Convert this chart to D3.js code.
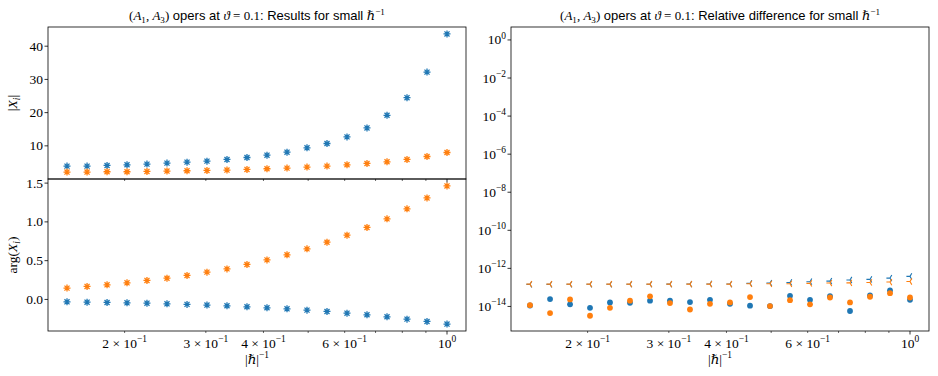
<!DOCTYPE html>
<html><head><meta charset="utf-8">
<script src="https://cdn.jsdelivr.net/npm/d3@7"></script>
<style>body{margin:0;background:#fff}svg{display:block}</style>
</head><body>
<svg id="c" width="938" height="376"></svg>
<script>
// ---------- data ----------
const hInv = [0.1500,0.1658,0.1832,0.2024,0.2236,0.2471,0.2731,0.3017,0.3334,0.3684,
              0.4071,0.4499,0.4971,0.5493,0.6070,0.6707,0.7412,0.8190,0.9050,1.0000];
const absBlue   = [3.9,3.9,4.1,4.3,4.5,4.8,5.1,5.4,5.9,6.5,7.2,8.1,9.4,10.7,12.7,15.4,19.2,24.5,32.2,43.7];
const absOrange = [2.1,2.1,2.2,2.2,2.3,2.4,2.5,2.6,2.7,2.9,3.1,3.3,3.6,3.9,4.3,4.7,5.2,5.9,6.8,8.0];
const argBlue   = [-0.031,-0.035,-0.039,-0.044,-0.048,-0.057,-0.064,-0.073,-0.082,-0.095,
                   -0.108,-0.121,-0.138,-0.155,-0.177,-0.198,-0.224,-0.254,-0.284,-0.318];
const argOrange = [0.146,0.168,0.188,0.214,0.245,0.274,0.309,0.352,0.394,0.451,
                   0.510,0.575,0.652,0.738,0.829,0.928,1.039,1.168,1.309,1.464];
const relDotBlue   = [1.12e-14,2.45e-14,1.29e-14,8.5e-15,1.62e-14,1.55e-14,2.0e-14,2.0e-14,1.70e-14,2.24e-14,
                      1.38e-14,1.10e-14,1.05e-14,3.63e-14,2.24e-14,3.47e-14,5.75e-15,3.8e-14,6.9e-14,2.24e-14];
const relDotOrange = [1.17e-14,4.47e-15,2.34e-14,3.24e-15,8.5e-15,2.0e-14,3.39e-14,1.51e-14,6.9e-15,1.38e-14,
                      1.62e-14,3.09e-14,1.05e-14,2.14e-14,1.29e-14,2.95e-14,1.62e-14,3.24e-14,5.0e-14,2.95e-14];
const relTriBlue   = [1.45e-13,1.45e-13,1.46e-13,1.46e-13,1.46e-13,1.47e-13,1.47e-13,1.48e-13,1.50e-13,1.52e-13,
                      1.50e-13,1.62e-13,1.70e-13,1.82e-13,2.0e-13,2.14e-13,2.45e-13,2.63e-13,3.09e-13,3.80e-13];
const relTriOrange = [1.48e-13,1.48e-13,1.48e-13,1.48e-13,1.48e-13,1.48e-13,1.48e-13,1.48e-13,1.48e-13,1.48e-13,
                      1.48e-13,1.55e-13,1.55e-13,1.55e-13,1.62e-13,1.70e-13,1.74e-13,1.82e-13,1.91e-13,2.04e-13];
const xTickVals   = [0.2,0.3,0.4,0.6,1];
const xTickLabels = [["2 × 10","−1"],["3 × 10","−1"],["4 × 10","−1"],["6 × 10","−1"],["10","0"]];
const xMinorVals  = [0.5,0.7,0.8,0.9];
const absTicks = [10,20,30,40];
const argTicks = [0.0,0.5,1.0,1.5];
const relTicks = [1e0,1e-2,1e-4,1e-6,1e-8,1e-10,1e-12,1e-14];
const relTickExp = ["0","−2","−4","−6","−8","−10","−12","−14"];

const BLUE = "#1f77b4", ORANGE = "#ff7f0e";
const SERIF = "'Liberation Serif', 'DejaVu Serif', serif";
const SANS  = "'Liberation Sans', Arial, sans-serif";
const FS = 13.5;

const svg = d3.select("#c");

// layout
const L = {x0: 48, x1: 466}, R = {x0: 511, x1: 929};
const yTop = 27, yMid = 179, yBot = 331;

function pad(lo, hi){ const m=(hi-lo)*0.05; return [lo-m, hi+m]; }
const lx = Math.log10(d3.min(hInv)), hx = Math.log10(d3.max(hInv));
const [dlx, dhx] = pad(lx, hx);
const xL = d3.scaleLog().domain([10**dlx, 10**dhx]).range([L.x0, L.x1]);
const xR = d3.scaleLog().domain([10**dlx, 10**dhx]).range([R.x0, R.x1]);
const yAbs = d3.scaleLinear().domain(pad(d3.min(absOrange.concat(absBlue)), d3.max(absBlue.concat(absOrange)))).range([yMid, yTop]);
const yArg = d3.scaleLinear().domain(pad(d3.min(argBlue.concat(argOrange)), d3.max(argBlue.concat(argOrange)))).range([yBot, yMid]);
const yRel = d3.scaleLog().domain([10**-15.29, 10**0.68]).range([yBot, yTop]);

// rich text helper
function rich(parent, x, y, parts, anchor, size, transform){
  size = size || FS;
  const t = parent.append("text").attr("x",x).attr("y",y)
    .attr("text-anchor",anchor||"middle").style("font-size",size+"px").attr("fill","#000");
  if (transform) t.attr("transform", transform);
  let shift = 0;
  parts.forEach(p=>{
    const fs = size * ((p.sup||p.sub)?0.7:1);
    const target = p.sup ? -size*0.42 : (p.sub ? size*0.22 : 0);
    const ts = t.append("tspan").text(p.t)
      .style("font-family", p.sans?SANS:SERIF)
      .style("font-style", p.i?"italic":"normal")
      .style("font-size", fs+"px");
    if (target !== shift){ ts.attr("dy", target-shift); shift = target; }
  });
  return t;
}

// star (asterisk) marker
function asterisk(g, data, xs, ys, color){
  const r = 3.5;
  const pth = `M${-r},0L${r},0M0,${-r}L0,${r}M${-r*0.72},${-r*0.72}L${r*0.72},${r*0.72}M${-r*0.72},${r*0.72}L${r*0.72},${-r*0.72}`;
  g.selectAll(null).data(data).enter().append("path")
    .attr("transform",d=>`translate(${xs(d[0])},${ys(d[1])})`)
    .attr("d",pth).attr("stroke",color).attr("stroke-width",1.3).attr("fill","none");
}
function dots(g, data, xs, ys, color){
  g.selectAll(null).data(data).enter().append("circle")
    .attr("cx",d=>xs(d[0])).attr("cy",d=>ys(d[1])).attr("r",2.9).attr("fill",color);
}
function triLeft(g, data, xs, ys, color){
  const r = 3.6;
  const pth = `M0,0L${-r},0M0,0L${r*0.5},${-r*0.866}M0,0L${r*0.5},${r*0.866}`;
  g.selectAll(null).data(data).enter().append("path")
    .attr("transform",d=>`translate(${xs(d[0])},${ys(d[1])})`)
    .attr("d",pth).attr("stroke",color).attr("stroke-width",1.1).attr("fill","none");
}
const zip = (a,b)=>a.map((v,i)=>[v,b[i]]);

function xTicks(g, xs, y, withLabels){
  xTickVals.forEach((v,i)=>{
    const major = v===1;
    g.append("line").attr("x1",xs(v)).attr("x2",xs(v)).attr("y1",y).attr("y2",y+(major?3.5:2))
      .attr("stroke","#000").attr("stroke-width",major?0.8:0.6);
    if (withLabels){
      rich(g, xs(v), y+17, [{t:xTickLabels[i][0]},{t:xTickLabels[i][1],sup:true}], "middle");
    }
  });
  xMinorVals.forEach(v=>{
    g.append("line").attr("x1",xs(v)).attr("x2",xs(v)).attr("y1",y).attr("y2",y+2)
      .attr("stroke","#000").attr("stroke-width",0.6);
  });
}
function yTicks(g, x, ticks, ys, fmt){
  ticks.forEach((v,i)=>{
    g.append("line").attr("x1",x-3.5).attr("x2",x).attr("y1",ys(v)).attr("y2",ys(v))
      .attr("stroke","#000").attr("stroke-width",0.8);
    rich(g, x-5, ys(v)+4.5, fmt(v,i), "end");
  });
}
function frame(g, x0, x1, y0, y1){
  g.append("rect").attr("x",x0).attr("y",y0).attr("width",x1-x0).attr("height",y1-y0)
    .attr("fill","none").attr("stroke","#000").attr("stroke-width",0.8);
}

const g = svg.append("g");

const gTop = g.append("g");
asterisk(gTop, zip(hInv, absBlue), xL, yAbs, BLUE);
asterisk(gTop, zip(hInv, absOrange), xL, yAbs, ORANGE);
yTicks(gTop, L.x0, absTicks, yAbs, v=>[{t:String(v)}]);

const gBot = g.append("g");
asterisk(gBot, zip(hInv, argBlue), xL, yArg, BLUE);
asterisk(gBot, zip(hInv, argOrange), xL, yArg, ORANGE);
yTicks(gBot, L.x0, argTicks, yArg, v=>[{t:v.toFixed(1)}]);
xTicks(gBot, xL, yMid, false);
xTicks(gBot, xL, yBot, true);
frame(g, L.x0, L.x1, yTop, yMid);
frame(g, L.x0, L.x1, yMid, yBot);

const gR = g.append("g");
dots(gR, zip(hInv, relDotBlue), xR, yRel, BLUE);
dots(gR, zip(hInv, relDotOrange), xR, yRel, ORANGE);
triLeft(gR, zip(hInv, relTriBlue), xR, yRel, BLUE);
triLeft(gR, zip(hInv, relTriOrange), xR, yRel, ORANGE);
yTicks(gR, R.x0, relTicks, yRel, (v,i)=>[{t:"10"},{t:relTickExp[i],sup:true}]);
xTicks(gR, xR, yBot, true);
frame(g, R.x0, R.x1, yTop, yBot);

function titleParts(rest){
  return [{t:"("},{t:"A",i:true},{t:"1",sub:true},{t:", "},{t:"A",i:true},{t:"3",sub:true},{t:")"},
          {t:" opers at ",sans:true},{t:"ϑ",i:true},{t:" = 0.1"},{t:": "+rest,sans:true},
          {t:"ℏ",i:true},{t:"−1",sup:true}];
}
rich(g, (L.x0+L.x1)/2, 20, titleParts("Results for small "), "middle", 13);
rich(g, (R.x0+R.x1)/2, 20, titleParts("Relative difference for small "), "middle", 13);

const xlab = [{t:"|"},{t:"ℏ",i:true},{t:"|"},{t:"−1",sup:true}];
rich(g, (L.x0+L.x1)/2, 364, xlab, "middle", 13.5);
rich(g, (R.x0+R.x1)/2, 364, xlab, "middle", 13.5);
rich(g, 0, 0, [{t:"|"},{t:"X",i:true},{t:"i",i:true,sub:true},{t:"|"}], "middle", 13.5,
     `translate(17,${(yTop+yMid)/2}) rotate(-90)`);
rich(g, 0, 0, [{t:"arg("},{t:"X",i:true},{t:"i",i:true,sub:true},{t:")"}], "middle", 13.5,
     `translate(17,${(yMid+yBot)/2}) rotate(-90)`);
</script>
</body></html>
